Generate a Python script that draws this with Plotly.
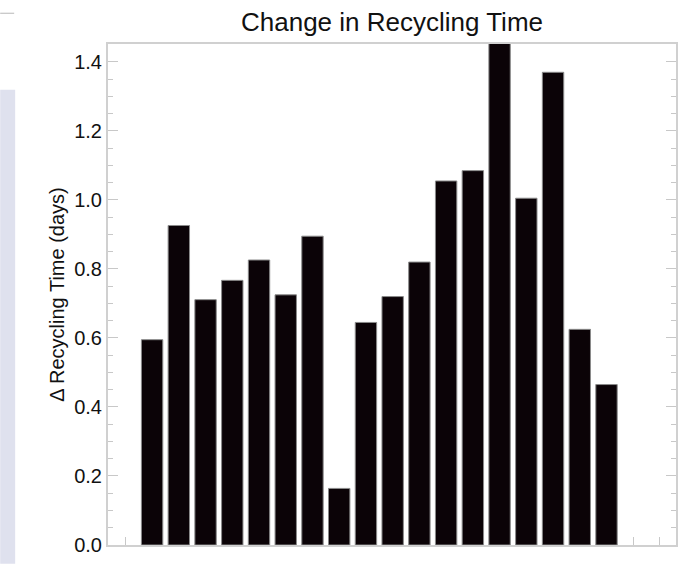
import plotly.graph_objects as go

positions = list(range(1, 19))
recycling_change = [0.595, 0.926, 0.711, 0.767, 0.826, 0.725, 0.895, 0.164, 0.645,
                    0.72, 0.82, 1.055, 1.085, 1.50, 1.005, 1.37, 0.625, 0.465]
y_tick_vals = [0.0, 0.2, 0.4, 0.6, 0.8, 1.0, 1.2, 1.4]
y_tick_text = ["0.0", "0.2", "0.4", "0.6", "0.8", "1.0", "1.2", "1.4"]
x_tick_vals = list(range(0, 21))

fig = go.Figure()
fig.add_trace(go.Bar(
    x=positions, y=recycling_change, width=0.8,
    marker=dict(color="#0b0307", line=dict(color="#8a8a8a", width=1)),
    hoverinfo="skip",
))

FAMILY = "Liberation Sans, Arial, Helvetica, sans-serif"
axis_font = dict(family=FAMILY, size=20, color="#111111")

fig.update_layout(
    width=690, height=568,
    margin=dict(l=108, r=13, t=44, b=19),
    paper_bgcolor="white", plot_bgcolor="white",
    showlegend=False,
    title=dict(text="Change in Recycling Time", x=0.5, xref="paper", xanchor="center",
               y=1 - 22/568, yref="container", yanchor="middle",
               font=dict(family=FAMILY, size=26, color="#111111")),
    font=axis_font,
    shapes=[
        dict(type="rect", xref="paper", yref="paper", x0=-108/569, x1=-93/569,
             y0=-19/505, y1=(549 - 90)/505, fillcolor="#dfe1ee", line=dict(width=0), layer="below"),
        dict(type="line", xref="paper", yref="paper", x0=-108/569, x1=-94/569,
             y0=(549 - 13)/505, y1=(549 - 13)/505, line=dict(color="#b8b8b8", width=1)),
    ],
)

fig.update_xaxes(
    range=[-0.65, 20.6], tickvals=x_tick_vals, showticklabels=False,
    ticks="inside", ticklen=8, tickcolor="#c8c8c8", tickwidth=1,
    showline=True, linecolor="#d0d0d0", linewidth=2, mirror=True,
    showgrid=False, zeroline=False, layer="below traces",
)
fig.update_yaxes(
    range=[0, 1.452], tickvals=y_tick_vals, ticktext=y_tick_text,
    ticks="inside", ticklen=10, tickcolor="#c8c8c8", tickwidth=1,
    minor=dict(ticks="inside", dtick=0.05, tick0=0, ticklen=5, tickcolor="#c8c8c8", tickwidth=1, showgrid=False),
    showline=True, linecolor="#d0d0d0", linewidth=2, mirror="ticks",
    showgrid=False, zeroline=False,
    title=dict(text="Δ Recycling Time (days)", standoff=4, font=axis_font),
    tickfont=axis_font,
)

fig.write_html("out.html", config={"displayModeBar": False},
               post_script="document.body.style.margin='0';document.body.style.overflow='hidden';")
